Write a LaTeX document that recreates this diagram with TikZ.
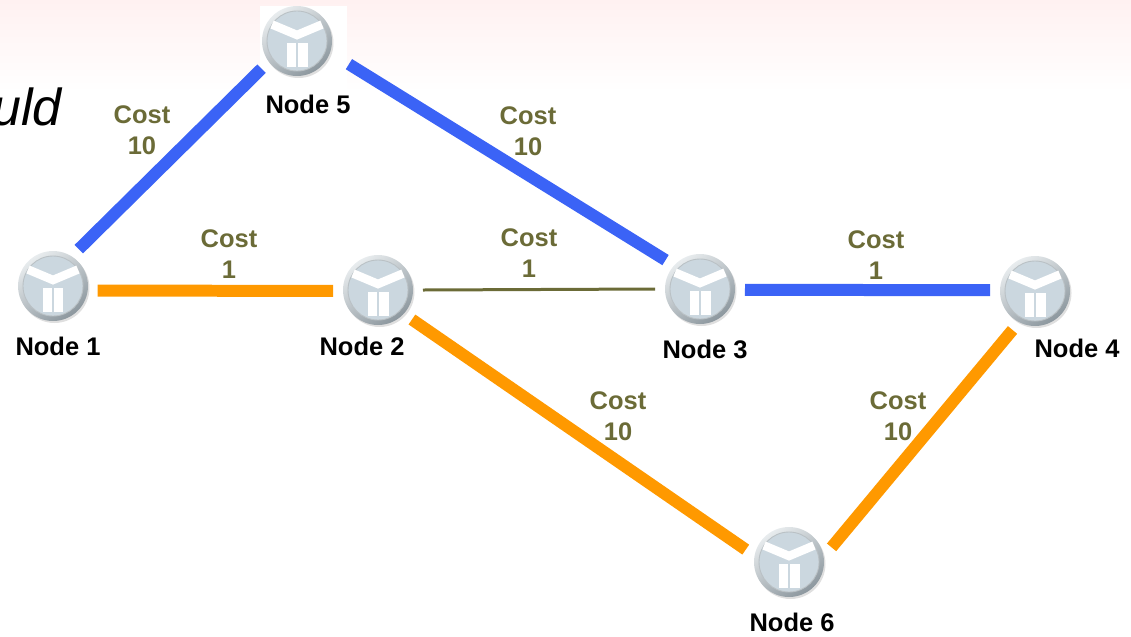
\documentclass[tikz,border=0pt]{standalone}
\usepackage{fontspec}
\setmainfont{Liberation Sans}
\usepackage{tikz}
\usetikzlibrary{positioning}
\usetikzlibrary{shadows}

\definecolor{linkblue}{RGB}{59,99,246}
\definecolor{linkorange}{RGB}{255,153,0}
\definecolor{costolive}{RGB}{107,107,55}
\definecolor{ringlight}{RGB}{232,236,238}
\definecolor{ringdark}{RGB}{140,151,158}
\definecolor{discfill}{RGB}{203,215,223}
\definecolor{headpink}{RGB}{255,241,241}

\begin{document}
\begin{tikzpicture}
[x=0.02cm, y=-0.02cm, router node/.style={circle, minimum size=1.4cm,
    inner sep=0pt, outer sep=0.2cm, shade, top color=ringlight,
    bottom color=ringdark, shading angle=35,
    drop shadow={shadow xshift=0.03cm, shadow yshift=-0.04cm, opacity=0.25},
    path picture={
      \begin{scope}[shift={(path picture bounding box.center)}]
        \fill[discfill] (0cm,0cm) circle (0.6cm);
        \draw[ringdark!60, line width=0.5pt] (0cm,0cm) circle (0.6cm);
        \draw[white, line width=0.17cm] (-0.5cm,0.33cm) -- (0cm,0.12cm) -- (0.5cm,0.33cm);
        \fill[white] (-0.21cm,-0.03cm) rectangle (0.21cm,-0.52cm);
        \draw[discfill, line width=0.6pt] (0cm,-0.03cm) -- (0cm,-0.52cm);
      \end{scope}}},
  name node/.style={inner sep=0pt, outer sep=0pt,
    font=\fontsize{14.5}{17.6}\selectfont\bfseries},
  cost node/.style={inner sep=0pt, outer sep=0pt, align=center,
    text=costolive, font=\fontsize{14.5}{17.6}\selectfont\bfseries},
  blue link/.style={draw=linkblue, line width=0.24cm},
  orange link/.style={draw=linkorange, line width=0.24cm},
  olive link/.style={draw=costolive, line width=0.06cm}]

    \path[use as bounding box, clip] (0,0) rectangle (1131,636);
    \shade[top color=headpink, bottom color=white] (0,0) rectangle (1131,92);
    \fill[white] (260,6) rectangle (347,92);
    \node [anchor=base east, inner sep=0pt,
      font=\fontsize{29.6}{32}\selectfont\itshape] (head) at (62,125) {uld};

    \node [router node] (r1) at (53,286) {};
    \node [router node] (r2) at (378,290) {};
    \node [router node] (r3) at (700,289) {};
    \node [router node] (r4) at (1035,291) {};
    \node [router node] (r5) at (297,41) {};
    \node [router node] (r6) at (789,562) {};

    \node [name node] (l1) [below=0.12cm of r1, xshift=0.1cm] {Node 1};
    \node [name node] (l2) [below=0.04cm of r2, xshift=-0.32cm] {Node 2};
    \node [name node] (l3) [below=0.12cm of r3, xshift=0.1cm] {Node 3};
    \node [name node] (l4) [below=0.06cm of r4, xshift=0.84cm] {Node 4};
    \node [name node] (l5) [below=0.18cm of r5, xshift=0.22cm] {Node 5};
    \node [name node] (l6) [below=0.12cm of r6, xshift=0.06cm] {Node 6};

    \node [cost node] (c15) at (142,130.5) {Cost\\10};
    \node [cost node] (c53) at (528,131) {Cost\\10};
    \node [cost node] (c12) at (229,254) {Cost\\1};
    \node [cost node] (c23) at (529,253) {Cost\\1};
    \node [cost node] (c34) at (876,255) {Cost\\1};
    \node [cost node] (c26) at (618,416.5) {Cost\\10};
    \node [cost node] (c64) at (898,416.5) {Cost\\10};

    \draw[blue link] (r1.55) -- (r5.218);
    \draw[blue link, shorten <=0.24cm] (r5.-22) -- (r3.140);
    \draw[orange link] (r1.-6) -- (r2.181);
    \draw[olive link] (r2.0) -- (r3.180);
    \draw[blue link] (r3.-1) -- (r4.179);
    \draw[orange link] (r2.-41) -- (r6.164);
    \draw[orange link] (r6.19) -- (r4.240);
\end{tikzpicture}
\end{document}
